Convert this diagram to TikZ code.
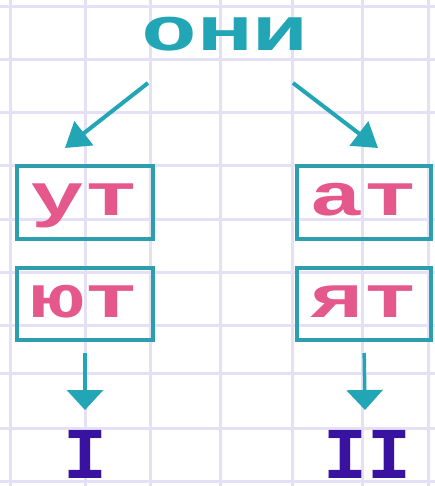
\documentclass[tikz,border=0pt]{standalone}
\usepackage{fontspec}
\newfontfamily\monofont[FakeStretch=1.5]{Liberation Mono}
\newfontfamily\romanfont{Liberation Mono}
\usetikzlibrary{arrows.meta,positioning}
\definecolor{gridlav}{HTML}{E4E1F6}
\definecolor{tealc}{HTML}{22A6B6}
\definecolor{boxteal}{HTML}{2C9EAE}
\definecolor{pinkc}{HTML}{E5588B}
\definecolor{purplec}{HTML}{3A12A0}

\tikzset{
  bigtext/.style={font=\monofont\bfseries\fontsize{60}{60}\selectfont, inner sep=0pt},
  ending/.style={bigtext, draw=boxteal, line width=4pt, text=pinkc,
    text height=46pt, text depth=20pt, minimum width=136pt, minimum height=72pt},
  conj/.style={font=\romanfont\bfseries\fontsize{73}{73}\selectfont, inner sep=0pt,
    text=purplec, anchor=base},
  bigarr/.style={draw=tealc, line width=4pt, -{Triangle[length=24pt,width=30pt]}},
  smallarr/.style={draw=tealc, line width=3.5pt, -{Triangle[length=20pt,width=36pt]}},
}

\begin{document}
\begin{tikzpicture}[x=1pt,y=-1pt]
  \useasboundingbox (0,0) rectangle (435,486);
  \fill[white] (0,0) rectangle (435,486);
  % squared paper
  \foreach \gx in {10,85,150,220,292,362,428}
    \draw[gridlav, line width=3pt] (\gx,0) -- (\gx,486);
  \foreach \gy in {7,60,113,166,219,272,325,373,428,481}
    \draw[gridlav, line width=3pt] (0,\gy) -- (435,\gy);

  \node[bigtext, font=\monofont\bfseries\fontsize{62}{62}\selectfont,
    text=tealc, anchor=base] (oni) at (225,51) {они};

  \node[ending] (ut) at (85,202.5) {ут};
  \node[ending] (yut) at (85,304) {ют};
  \node[ending, minimum width=134pt] (at) at (364,202.5) {ат};
  \node[ending, minimum width=134pt] (yat) at (364,304) {ят};

  \node[conj] (one) at (85,478) {I};
  \node[conj] (two) at (367,478) {II};

  \coordinate (lstart) at (148,83);
  \coordinate (lend) at (65,148);
  \coordinate (rstart) at (293,83);
  \coordinate (rend) at (378,148);
  \draw[bigarr] (lstart) -- (lend);
  \draw[bigarr] (rstart) -- (rend);

  \draw[smallarr, shorten <=11pt] (yut.south) -- (85,410);
  \draw[smallarr, shorten <=11pt] (yat.south) -- (365,410);
\end{tikzpicture}
\end{document}
